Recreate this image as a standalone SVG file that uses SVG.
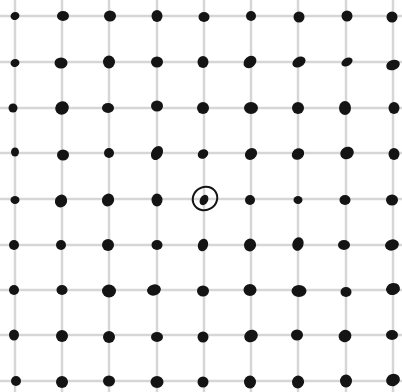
<svg xmlns="http://www.w3.org/2000/svg" width="402" height="392" viewBox="0 0 402 392">
<style>
.g{stroke:#d6d6d6;stroke-width:2.5;fill:none}
.d{fill:#141414}
.c{fill:none;stroke:#141414;stroke-width:2}
</style>
<rect width="402" height="392" fill="#ffffff"/>
<g id="grid">
<path class="g" d="M15 0V392M62 0V392M109 0V392M157 0V392M204 0V392M251 0V392M298 0V392M346 0V392M393 0V392"/>
<path class="g" d="M0 16H402M0 62H402M0 108H402M0 153H402M0 199H402M0 245H402M0 290H402M0 335H402M0 381H402"/>
</g>
<g id="dots">
<ellipse class="d" cx="15" cy="16" rx="4.5" ry="4" transform="rotate(-20 15 16)"/>
<ellipse class="d" cx="63" cy="16" rx="6" ry="5"/>
<ellipse class="d" cx="110" cy="16" rx="6" ry="5.5"/>
<ellipse class="d" cx="157" cy="16" rx="5.5" ry="6"/>
<ellipse class="d" cx="204" cy="17" rx="5.5" ry="5"/>
<ellipse class="d" cx="251" cy="16" rx="5" ry="5"/>
<ellipse class="d" cx="299" cy="17" rx="5.5" ry="5.5"/>
<ellipse class="d" cx="347" cy="16" rx="5.5" ry="5.5"/>
<ellipse class="d" cx="392" cy="17" rx="5.5" ry="5.5"/>

<ellipse class="d" cx="15" cy="63" rx="4.5" ry="4" transform="rotate(-20 15 63)"/>
<ellipse class="d" cx="61" cy="63" rx="6.5" ry="5.5"/>
<ellipse class="d" cx="109" cy="62" rx="6" ry="6.5"/>
<ellipse class="d" cx="157" cy="62" rx="6" ry="5.5"/>
<ellipse class="d" cx="203" cy="62" rx="5.5" ry="6"/>
<ellipse class="d" cx="250" cy="62" rx="7" ry="5.5" transform="rotate(-40 250 62)"/>
<ellipse class="d" cx="299" cy="62" rx="7" ry="5" transform="rotate(-30 299 62)"/>
<ellipse class="d" cx="347" cy="62" rx="6" ry="4" transform="rotate(-30 347 62)"/>
<ellipse class="d" cx="393" cy="65" rx="7" ry="5" transform="rotate(-20 393 65)"/>

<ellipse class="d" cx="13" cy="108" rx="4.5" ry="4.5"/>
<ellipse class="d" cx="62" cy="108" rx="7" ry="6.5" transform="rotate(-40 62 108)"/>
<ellipse class="d" cx="108" cy="108" rx="6" ry="5"/>
<ellipse class="d" cx="157" cy="106" rx="6" ry="5.5"/>
<ellipse class="d" cx="203" cy="108" rx="6" ry="6"/>
<ellipse class="d" cx="251" cy="108" rx="7" ry="6"/>
<ellipse class="d" cx="298" cy="108" rx="6" ry="6"/>
<ellipse class="d" cx="345" cy="108" rx="6" ry="7"/>
<ellipse class="d" cx="394" cy="108" rx="5.5" ry="6"/>

<ellipse class="d" cx="15" cy="152" rx="4" ry="4.5"/>
<ellipse class="d" cx="63" cy="155" rx="6" ry="5.5"/>
<ellipse class="d" cx="109" cy="153" rx="5" ry="5"/>
<ellipse class="d" cx="157" cy="153" rx="7.5" ry="5.5" transform="rotate(-60 157 153)"/>
<ellipse class="d" cx="203" cy="154" rx="5.5" ry="4.5" transform="rotate(-30 203 154)"/>
<ellipse class="d" cx="251" cy="154" rx="6.5" ry="5.5" transform="rotate(-40 251 154)"/>
<ellipse class="d" cx="298" cy="154" rx="6.5" ry="5.5" transform="rotate(-35 298 154)"/>
<ellipse class="d" cx="347" cy="153" rx="7" ry="6" transform="rotate(-30 347 153)"/>
<ellipse class="d" cx="394" cy="154" rx="5.5" ry="6"/>

<ellipse class="d" cx="15" cy="200" rx="4.5" ry="4"/>
<ellipse class="d" cx="61" cy="201" rx="6" ry="6.5" transform="rotate(30 61 201)"/>
<ellipse class="d" cx="108" cy="200" rx="6" ry="6.5" transform="rotate(30 108 200)"/>
<ellipse class="d" cx="157" cy="200" rx="5.5" ry="6.5"/>
<ellipse class="d" cx="204" cy="200" rx="4" ry="5.5" transform="rotate(30 204 200)"/>
<ellipse class="d" cx="250" cy="200" rx="5" ry="5"/>
<ellipse class="d" cx="298" cy="200" rx="4.5" ry="4"/>
<ellipse class="d" cx="345" cy="200" rx="5.5" ry="5"/>
<ellipse class="d" cx="392" cy="200" rx="6" ry="5.5"/>

<ellipse class="d" cx="14" cy="245" rx="5" ry="5"/>
<ellipse class="d" cx="61" cy="245" rx="5" ry="5"/>
<ellipse class="d" cx="108" cy="245" rx="6" ry="6"/>
<ellipse class="d" cx="157" cy="245" rx="5.5" ry="5"/>
<ellipse class="d" cx="203" cy="245" rx="5" ry="6.5" transform="rotate(20 203 245)"/>
<ellipse class="d" cx="250" cy="245" rx="6" ry="6.5" transform="rotate(20 250 245)"/>
<ellipse class="d" cx="298" cy="244" rx="5.5" ry="7" transform="rotate(20 298 244)"/>
<ellipse class="d" cx="344" cy="245" rx="6" ry="5"/>
<ellipse class="d" cx="392" cy="245" rx="7" ry="5.5" transform="rotate(-15 392 245)"/>

<ellipse class="d" cx="14" cy="290" rx="5" ry="5"/>
<ellipse class="d" cx="62" cy="290" rx="5.5" ry="5"/>
<ellipse class="d" cx="109" cy="291" rx="7" ry="6.5"/>
<ellipse class="d" cx="154" cy="290" rx="7" ry="5.5" transform="rotate(-15 154 290)"/>
<ellipse class="d" cx="203" cy="291" rx="6" ry="5.5"/>
<ellipse class="d" cx="250" cy="290" rx="6.5" ry="6"/>
<ellipse class="d" cx="299" cy="291" rx="7.5" ry="6"/>
<ellipse class="d" cx="346" cy="292" rx="5.5" ry="5"/>
<ellipse class="d" cx="393" cy="289" rx="7" ry="6" transform="rotate(-15 393 289)"/>

<ellipse class="d" cx="14" cy="335" rx="5" ry="5.5"/>
<ellipse class="d" cx="62" cy="336" rx="6" ry="6"/>
<ellipse class="d" cx="109" cy="337" rx="6" ry="6"/>
<ellipse class="d" cx="157" cy="337" rx="6" ry="5"/>
<ellipse class="d" cx="203" cy="337" rx="5.5" ry="5.5"/>
<ellipse class="d" cx="251" cy="336" rx="7" ry="6" transform="rotate(-30 251 336)"/>
<ellipse class="d" cx="297" cy="335" rx="6" ry="5.5"/>
<ellipse class="d" cx="345" cy="336" rx="6.5" ry="6" transform="rotate(-30 345 336)"/>
<ellipse class="d" cx="392" cy="335" rx="6" ry="5"/>

<ellipse class="d" cx="16" cy="381" rx="5" ry="5"/>
<ellipse class="d" cx="62" cy="382" rx="6" ry="6"/>
<ellipse class="d" cx="109" cy="381" rx="6" ry="5.5"/>
<ellipse class="d" cx="157" cy="382" rx="6.5" ry="6"/>
<ellipse class="d" cx="203" cy="382" rx="5.5" ry="5.5"/>
<ellipse class="d" cx="250" cy="382" rx="6" ry="6.5"/>
<ellipse class="d" cx="298" cy="382" rx="6" ry="6.5" transform="rotate(20 298 382)"/>
<ellipse class="d" cx="346" cy="381" rx="6" ry="6.5"/>
<ellipse class="d" cx="393" cy="380" rx="7" ry="6" transform="rotate(-20 393 380)"/>
</g>
<g id="center">
<ellipse class="c" cx="205" cy="198.5" rx="12.5" ry="11.5" transform="rotate(-30 205 198.5)"/>
</g>
</svg>
